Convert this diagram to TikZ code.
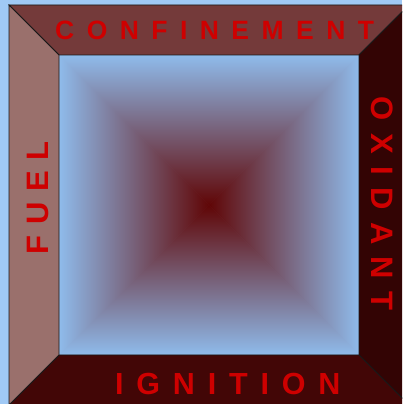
\documentclass[tikz,border=0pt]{standalone}
\usepackage{fontspec}
\setmainfont{Liberation Sans}
\definecolor{bgblue}{RGB}{160,201,245}
\definecolor{topband}{RGB}{116,58,58}
\definecolor{leftband}{RGB}{154,112,108}
\definecolor{rightband}{RGB}{51,4,4}
\definecolor{botband}{RGB}{66,6,6}
\definecolor{edgeblue}{RGB}{143,187,235}
\definecolor{midgray}{RGB}{106,114,150}
\definecolor{ctrred}{RGB}{96,6,6}
\definecolor{lblred}{RGB}{206,0,0}
\tikzset{
  band/.style={draw=black!90, line width=0.8pt, line join=miter},
  lbl/.style={text=lblred, inner sep=0pt, font=\bfseries},
}
\begin{document}
\begin{tikzpicture}[x=1pt,y=1pt]
\useasboundingbox (0,0) rectangle (402,404);
\clip (0,0) rectangle (402,404);
\fill[bgblue] (0,0) rectangle (402,404);
\coordinate (O1) at (9,399);
\coordinate (O2) at (409,399);
\coordinate (O3) at (409,-1);
\coordinate (O4) at (9,-1);
\coordinate (I1) at (59,349);
\coordinate (I2) at (359,349);
\coordinate (I3) at (359,49);
\coordinate (I4) at (59,49);
\coordinate (C) at (209,199);
% inner pyramid shading (drawn twice to hide anti-aliasing seams)
\foreach \rep in {1,2}{
  \shade[left color=edgeblue, middle color=midgray, right color=ctrred] (I4) -- (I1) -- (C) -- cycle;
  \shade[top color=edgeblue, middle color=midgray, bottom color=ctrred] (I1) -- (I2) -- (C) -- cycle;
  \shade[right color=edgeblue, middle color=midgray, left color=ctrred] (I2) -- (I3) -- (C) -- cycle;
  \shade[bottom color=edgeblue, middle color=midgray, top color=ctrred] (I3) -- (I4) -- (C) -- cycle;
}
% frame bands
\filldraw[band, fill=topband] (O1) -- (O2) -- (I2) -- (I1) -- cycle;
\filldraw[band, fill=rightband] (O2) -- (O3) -- (I3) -- (I2) -- cycle;
\filldraw[band, fill=botband] (O3) -- (O4) -- (I4) -- (I3) -- cycle;
\filldraw[band, fill=leftband] (O4) -- (O1) -- (I1) -- (I4) -- cycle;
% labels
\node[lbl, anchor=base west, font=\bfseries\fontsize{26.5}{30}\selectfont\addfontfeature{LetterSpace=47}] (conf) at (55,364) {CONFINEMENT};
\node[lbl, anchor=base west, font=\bfseries\fontsize{30.5}{34}\selectfont\addfontfeature{LetterSpace=42}] (ign) at (115,9.7) {IGNITION};
\node[lbl, anchor=base west, rotate=90, font=\bfseries\fontsize{31}{34}\selectfont\addfontfeature{LetterSpace=34}] (fuel) at (48.3,149.5) {FUEL};
\node[lbl, anchor=base west, rotate=-90, font=\bfseries\fontsize{31}{34}\selectfont\addfontfeature{LetterSpace=40}] (oxi) at (371,307.5) {OXIDANT};
\end{tikzpicture}
\end{document}
